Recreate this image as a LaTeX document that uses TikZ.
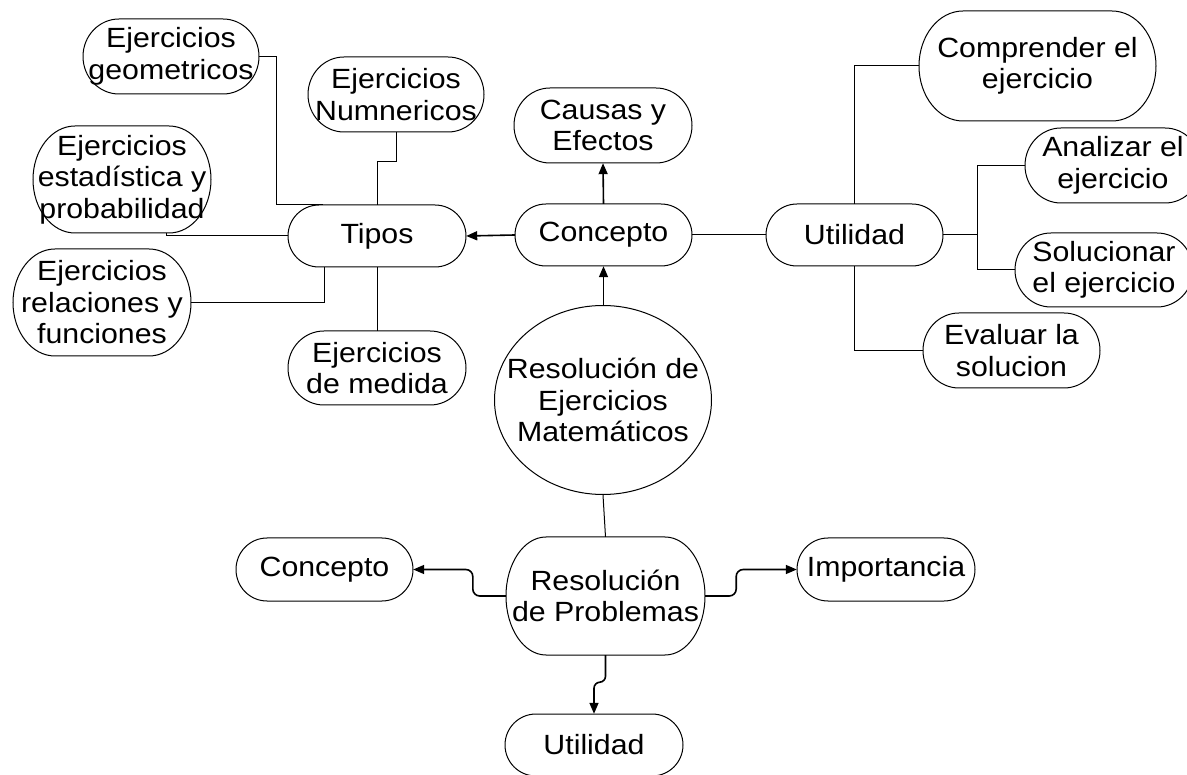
\documentclass[tikz,border=0pt]{standalone}
\usepackage{fontspec}
\setmainfont{Liberation Sans}[FakeStretch=1.09]
\usetikzlibrary{arrows.meta,shapes.geometric}
\tikzset{
  txt/.style={inner sep=0pt, align=center, font=\fontsize{27.8}{31.5}\selectfont},
  outline/.style={draw=black, line width=1pt},
  link/.style={draw=black, line width=1pt},
  arr/.style={draw=black, line width=1.6pt, -{Triangle[length=11pt,width=9pt]}},
}
\newcommand\bub[7]{%
  \node[txt, minimum width=#4pt, minimum height=#5pt] (#1) at (#2,#3) {#7};
  \pgfmathsetmacro\bxa{#2-#4/2}\pgfmathsetmacro\bxb{#2+#4/2}%
  \pgfmathsetmacro\bya{#3-#5/2}\pgfmathsetmacro\byb{#3+#5/2}%
  \pgfmathsetmacro\bym{#3}%
  \pgfmathsetmacro\bxl{\bxa+#6}\pgfmathsetmacro\bxr{\bxb-#6}%
  \pgfmathsetmacro\bkx{0.5523*#6}\pgfmathsetmacro\bky{0.5523*#5/2}%
  \draw[outline] (\bxl,\bya) -- (\bxr,\bya)
    .. controls ({\bxr+\bkx},\bya) and (\bxb,{\bym-\bky}) .. (\bxb,\bym)
    .. controls (\bxb,{\bym+\bky}) and ({\bxr+\bkx},\byb) .. (\bxr,\byb)
    -- (\bxl,\byb)
    .. controls ({\bxl-\bkx},\byb) and (\bxa,{\bym+\bky}) .. (\bxa,\bym)
    .. controls (\bxa,{\bym-\bky}) and ({\bxl-\bkx},\bya) .. cycle;
}
\begin{document}
\begin{tikzpicture}[x=1pt,y=-1pt]
\useasboundingbox (0,0) rectangle (1187,775);
\clip (0,0) rectangle (1187,775);
\fill[white] (0,0) rectangle (1187,775);

% left cluster
\bub{geo}{171}{56.5}{176}{75}{36}{Ejercicios\\geometricos}
\bub{num}{396}{94.5}{176}{75}{36}{Ejercicios\\Numnericos}
\bub{est}{122}{179.5}{178}{107}{42}{Ejercicios\\estadística y\\probabilidad}
\bub{tipos}{377}{236}{178}{62}{31}{Tipos}
\bub{rel}{102}{302.5}{178}{107}{42}{Ejercicios\\relaciones y\\funciones}
\bub{med}{377}{368}{178}{74}{36}{Ejercicios\\de medida}

% centre
\bub{causas}{603}{125.5}{178}{75}{36}{Causas y\\Efectos}
\bub{conc}{603.5}{235}{177}{62}{31}{Concepto}
\node[txt, draw, line width=1pt, ellipse, minimum width=217pt, minimum height=189pt] (circ) at (603,400)
  {\makebox[0pt][c]{\raisebox{-4pt}[\height][\depth]{\begin{tabular}{@{}c@{}}Resolución de\\Ejercicios\\Matemáticos\end{tabular}}}};

% right cluster
\bub{util}{854.5}{235}{177}{62}{31}{Utilidad}
\bub{comp}{1037.5}{66}{237}{110}{44}{Comprender el\\ejercicio}
\bub{anal}{1113}{165.5}{176}{75}{36}{Analizar el\\ejercicio}
\bub{sol}{1104}{270}{178}{74}{36}{Solucionar\\el ejercicio}
\bub{eval}{1011.5}{350.5}{177}{75}{36}{Evaluar la\\solucion}

% bottom
\bub{rp}{605.5}{596}{199}{118}{40}{Resolución\\de Problemas}
\bub{conc2}{324.5}{569.5}{177}{63}{31}{Concepto}
\bub{imp}{886}{569.5}{178}{63}{31}{Importancia}
\bub{util2}{594}{745}{178}{62}{31}{Utilidad}

% helper points on outlines
\coordinate (tg) at (323,205);
\coordinate (eb) at (166,233);
\coordinate (tb) at (324,267);

% connectors
\draw[link] (geo.east) -- ++(17,0) |- (tg);
\draw[link] (num.south) -- ++(0,29) -| (tipos.north);
\draw[link] (eb) |- (tipos.west);
\draw[link] (rel.east) -| (tb);
\draw[link] (tipos.south) -- (med.north);

\draw[arr] (conc.west) -- (tipos.east);
\draw[arr] (conc.north) -- (causas.south);
\draw[arr] (circ.north -| conc.south) -- (conc.south);
\draw[link] (conc.east) -- (util.west);

\draw[link] (util.north) |- (comp.west);
\draw[link] (util.south) |- (eval.west);
\draw[link] (util.east) -- ++(34,0) |- (anal.west);
\draw[link] (util.east) -- ++(34,0) |- (sol.west);

\draw[link] (circ.south) -- (rp.north);
\draw[arr, rounded corners=7pt] (rp.west) -- ++(-33,0) |- (conc2.east);
\draw[arr, rounded corners=7pt] (rp.east) -- ++(31,0) |- (imp.west);
\draw[arr, rounded corners=6pt] (rp.south) -- ++(0,27) -| (util2.north);
\end{tikzpicture}
\end{document}
